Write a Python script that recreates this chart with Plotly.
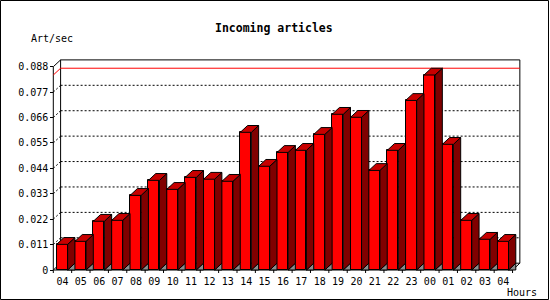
import plotly.graph_objects as go

# ---- data ----
hours = ["04", "05", "06", "07", "08", "09", "10", "11", "12", "13", "14", "15",
         "16", "17", "18", "19", "20", "21", "22", "23", "00", "01", "02", "03", "04"]
art_per_sec = [0.0111, 0.0124, 0.0211, 0.0215, 0.0323, 0.0388, 0.0349, 0.0401,
               0.0393, 0.0384, 0.0596, 0.0449, 0.0509, 0.0518, 0.0587, 0.0674,
               0.0661, 0.0431, 0.0518, 0.0734, 0.0844, 0.0544, 0.0215, 0.0133, 0.0124]
y_ticks = [0, 0.011, 0.022, 0.033, 0.044, 0.055, 0.066, 0.077, 0.088]
y_tick_text = ["0", "0.011", "0.022", "0.033", "0.044", "0.055", "0.066", "0.077", "0.088"]

# ---- geometry (pixels) ----
W, H = 550, 300
L, R, T, B = 50, 523, 56, 274          # plot area in pixels
X0PX, Y0PX = 53.3, 270                 # front origin pixel
SX = 18.37                             # px per category
SY = 203.3 / 0.088                     # px per unit
DXPX, DYPX = 7.3, 6.8                  # 3D depth

dx = DXPX / SX
dy = DYPX / SY
n = len(hours)
idx = list(range(n))
xr = [-0.5 - (X0PX - L) / SX, -0.5 + (R - X0PX) / SX]
yr = [-(B - Y0PX) / SY, (Y0PX - T) / SY]
ymax = y_ticks[-1]
xl, xrgt = -0.5, n - 0.5
peak = max(art_per_sec)

bw = 0.6
boff = -0.32

fig = go.Figure()

shapes = []
def line(x0, y0, x1, y1, color="black", dash=None, layer="below"):
    d = dict(type="line", xref="x", yref="y", x0=x0, y0=y0, x1=x1, y1=y1,
             line=dict(color=color, width=1, dash=dash) if dash else dict(color=color, width=1),
             layer=layer)
    shapes.append(d)

# back plane
line(xl + dx, dy, xl + dx, ymax + dy)
line(xl + dx, ymax + dy, xrgt + dx, ymax + dy)
line(xrgt + dx, dy, xrgt + dx, ymax + dy)
line(xl + dx, dy, xrgt + dx, dy)
# grid lines on back plane + stubs
for v in y_ticks[1:-1]:
    line(xl + dx, v + dy, xrgt + dx, v + dy, dash="2px,2px")
    line(xl, v, xl + dx, v + dy, dash="2px,2px")
# front axes
line(xl, 0, xl, ymax)
line(xl, ymax, xl + dx, ymax + dy)
line(xl, 0, xl + dx, dy)
line(xl, 0, xrgt, 0)
line(xrgt, 0, xrgt + dx, dy)
# max line
line(xl + dx, peak + dy, xrgt + dx, peak + dy, color="#ff0000")
line(xl, peak, xl + dx, peak + dy, color="#ff0000")
# x tick marks at category boundaries
for i in range(n + 1):
    line(i - 0.5, 0, i - 0.5, -3 / SY, layer="above")

# front faces
fig.add_trace(go.Bar(x=idx, y=art_per_sec, width=bw, offset=boff,
                     marker=dict(color="#ff0000", line=dict(color="black", width=1)),
                     hoverinfo="skip", showlegend=False))

# side, top and shadow faces
sx, sy_, tx, ty, gx, gy = [], [], [], [], [], []
for i, v in zip(idx, art_per_sec):
    xa = i + boff
    xb = xa + bw
    sx += [xb, xb + dx, xb + dx, xb, xb, None]
    sy_ += [0, dy, v + dy, v, 0, None]
    tx += [xa, xa + dx, xb + dx, xb, xa, None]
    ty += [v, v + dy, v + dy, v, v, None]
    gx += [xb, xb + dx, xb + dx, xb, None]
    gy += [0, dy, 0, 0, None]

fig.add_trace(go.Scatter(x=gx, y=gy, mode="lines", fill="toself", fillcolor="#8c8c8c",
                         line=dict(color="black", width=1), hoverinfo="skip", showlegend=False))
fig.add_trace(go.Scatter(x=sx, y=sy_, mode="lines", fill="toself", fillcolor="#800000",
                         line=dict(color="black", width=1), hoverinfo="skip", showlegend=False))
fig.add_trace(go.Scatter(x=tx, y=ty, mode="lines", fill="toself", fillcolor="#c80000",
                         line=dict(color="black", width=1), hoverinfo="skip", showlegend=False))

# border around the image
def px2paper_x(p): return (p - L) / (R - L)
def px2paper_y(p): return (B - p) / (B - T)
shapes.append(dict(type="rect", xref="paper", yref="paper",
                   x0=px2paper_x(0.5), x1=px2paper_x(548.5),
                   y0=px2paper_y(299.5), y1=px2paper_y(0.5),
                   line=dict(color="black", width=1), layer="above"))

mono = "DejaVu Sans Mono"
annotations = [
    dict(text="Art/sec", xref="paper", yref="paper", x=px2paper_x(29), y=px2paper_y(38),
         xanchor="left", yanchor="middle", showarrow=False, font=dict(family=mono, size=10, color="black")),
    dict(text="Hours", xref="paper", yref="paper", x=px2paper_x(505), y=px2paper_y(292),
         xanchor="left", yanchor="middle", showarrow=False, font=dict(family=mono, size=10, color="black")),
    dict(text="<b>Incoming articles</b>", xref="paper", yref="paper", x=px2paper_x(274), y=px2paper_y(28),
         xanchor="center", yanchor="middle", showarrow=False, font=dict(family=mono, size=11.5, color="black")),
]

fig.update_layout(
    width=W, height=H, margin=dict(l=L, r=W - R, t=T, b=H - B, pad=0),
    paper_bgcolor="white", plot_bgcolor="white",
    shapes=shapes, annotations=annotations,
    bargap=0,
    xaxis=dict(range=xr, showgrid=False, zeroline=False, showline=False,
               tickvals=idx, ticktext=hours, ticks="", ticklabelstandoff=4,
               anchor="free", position=(B - Y0PX) / (B - T),
               tickfont=dict(family=mono, size=10, color="black"), fixedrange=True),
    yaxis=dict(range=yr, showgrid=False, zeroline=False, showline=False,
               tickvals=y_ticks, ticktext=y_tick_text, ticks="outside", ticklen=3,
               tickcolor="black", anchor="free", position=(X0PX - L) / (R - L),
               tickfont=dict(family=mono, size=10, color="black"), fixedrange=True),
)

fig.write_html("out.html")
